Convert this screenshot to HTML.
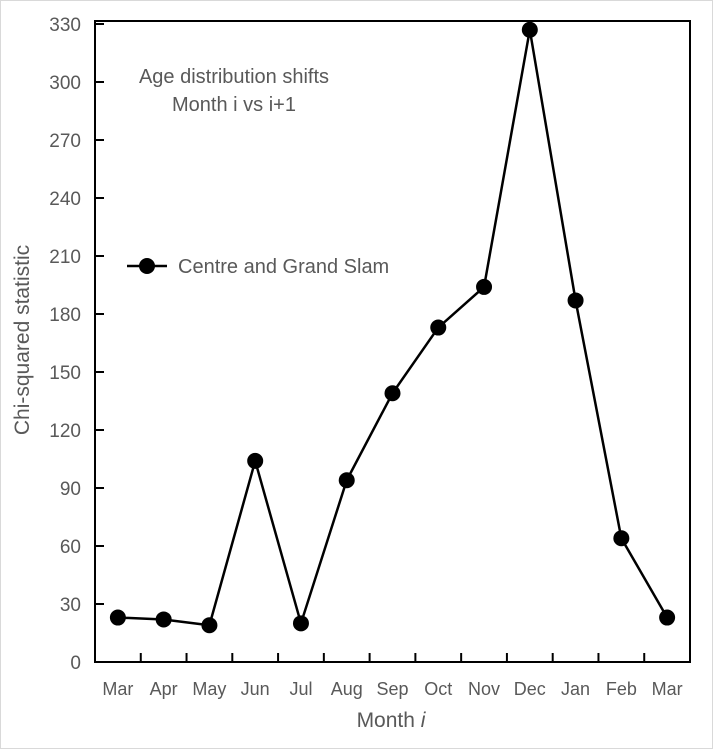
<!DOCTYPE html>
<html><head><meta charset="utf-8"><style>
body{margin:0;background:#fff}
svg text{font-family:"Liberation Sans",Arial,sans-serif;fill:#595959}
</style></head><body>
<svg id="chart" width="713" height="749" viewBox="0 0 713 749">
<rect x="0.5" y="0.5" width="712" height="748" fill="#fff" stroke="#d9d9d9"/>
<g id="plot"></g>
</svg>
<script>
const categories=["Mar","Apr","May","Jun","Jul","Aug","Sep","Oct","Nov","Dec","Jan","Feb","Mar"];
const values=[23,22,19,104,20,94,139,173,194,327,187,64,23];
const yTicks=[0,30,60,90,120,150,180,210,240,270,300,330];
const L=95,R=690,T=24,B=662,yMax=330;
const bw=(R-L)/categories.length;
const x=i=>L+bw*(i+0.5);
const y=v=>B-(v/yMax)*(B-T);
const NS="http://www.w3.org/2000/svg";
const g=document.getElementById('plot');
function mk(t,a,txt){const e=document.createElementNS(NS,t);for(const k in a)e.setAttribute(k,a[k]);if(txt!=null)e.textContent=txt;g.appendChild(e);return e;}
let e=mk('rect',{x:L,y:y(yMax)-3,width:R-L,height:B-y(yMax)+3,fill:'none',stroke:'#000','stroke-width':2});


yTicks.forEach(v=>{
 let t=mk('line',{x1:L,x2:L+9,y1:y(v),y2:y(v),stroke:'#000','stroke-width':2});
 
 
 let l=mk('text',{x:L-14,y:y(v)+7,'text-anchor':'end','font-size':19},v);
 
 
});
categories.forEach((c,i)=>{
 if(i>0){let t=mk('line',{x1:L+bw*i,x2:L+bw*i,y1:B,y2:B-9,stroke:'#000','stroke-width':2});
 
 }
 let l=mk('text',{x:x(i),y:B+33,'text-anchor':'middle','font-size':18},c);
 
 
});
let p=mk('polyline',{points:values.map((v,i)=>x(i)+','+y(v)).join(' '),fill:'none',stroke:'#000','stroke-width':2.5});


values.forEach((v,i)=>{
 let c=mk('circle',{cx:x(i),cy:y(v),r:8,fill:'#000'});
 
 
});
let a=mk('text',{x:0,y:0,'text-anchor':'middle','font-size':21,transform:'translate(29,340) rotate(-90)'},'Chi-squared statistic');


let xt=mk('text',{x:391,y:727,'text-anchor':'middle','font-size':21},'Month ');


const ts=document.createElementNS(NS,'tspan');ts.setAttribute('font-style','italic');ts.textContent='i';xt.appendChild(ts);
let t1=mk('text',{x:234,y:83,'text-anchor':'middle','font-size':20},'Age distribution shifts');


let t2=mk('text',{x:234,y:111,'text-anchor':'middle','font-size':20},'Month i vs i+1');


let ll=mk('line',{x1:127,x2:167,y1:266,y2:266,stroke:'#000','stroke-width':2.5});


let lc=mk('circle',{cx:147,cy:266,r:8,fill:'#000'});


let lt=mk('text',{x:178,y:273,'font-size':20},'Centre and Grand Slam');


</script>
</body></html>
